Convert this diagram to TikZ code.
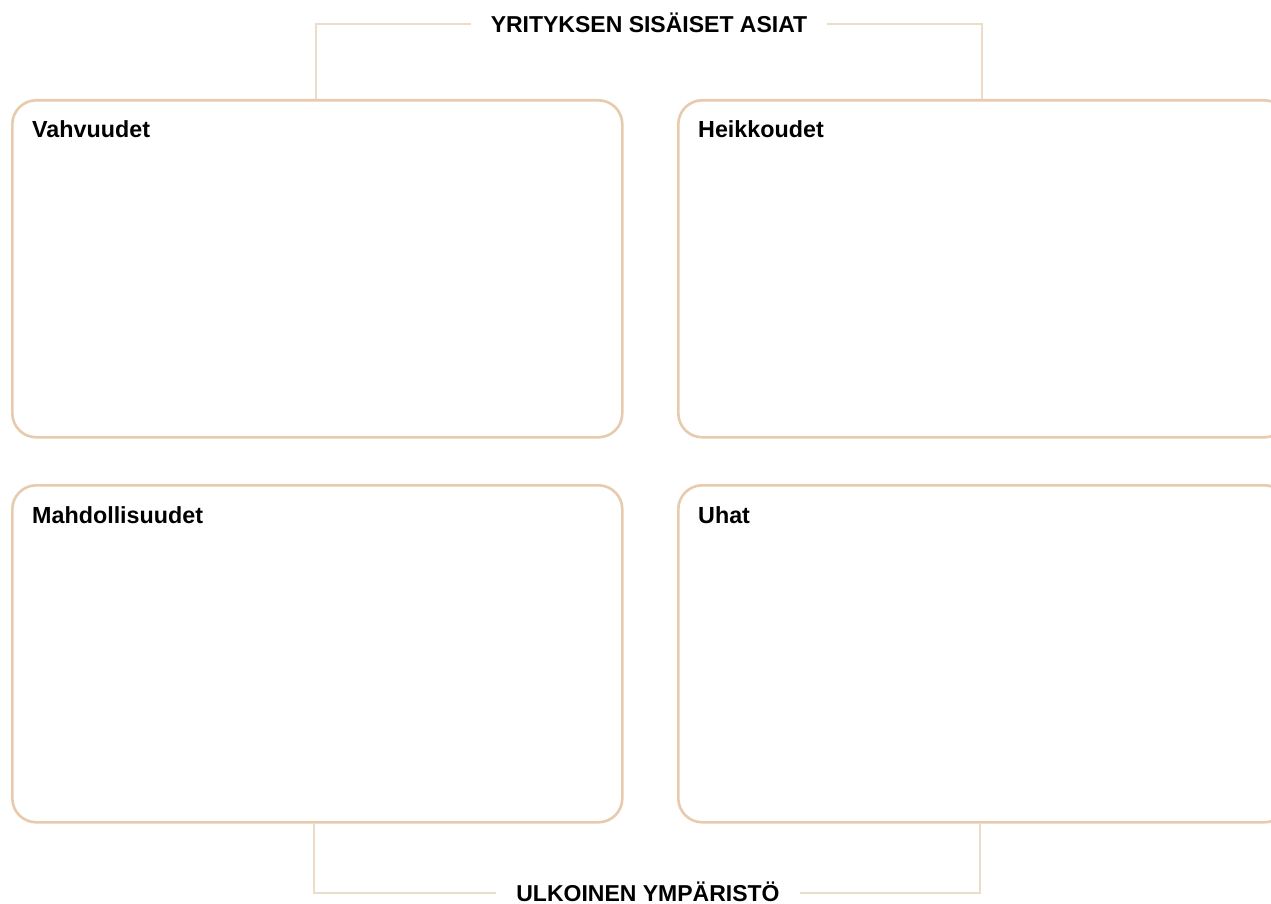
\documentclass[tikz,border=0pt]{standalone}
\usepackage{fontspec}
\setmainfont{Liberation Sans}
\usetikzlibrary{calc}
\definecolor{boxline}{HTML}{E8CBAE}
\definecolor{bracketline}{HTML}{EDDCC9}
\begin{document}
\begin{tikzpicture}[x=1pt,y=-1pt,
  swotbox/.style={draw=boxline, line width=2.6pt, rounded corners=24pt,
    minimum width=610pt, minimum height=337pt, inner sep=0pt},
  boxlabel/.style={anchor=base west, inner sep=0pt, font=\fontsize{23.3}{27}\selectfont\bfseries},
  axistitle/.style={anchor=base, inner xsep=20pt, inner ysep=0pt, font=\fontsize{23}{27}\selectfont\bfseries},
  bracket/.style={draw=bracketline, line width=2.4pt}]
\useasboundingbox (0,0) rectangle (1271,904);
\clip (0,0) rectangle (1271,904);
\fill[white] (0,0) rectangle (1271,904);
% boxes
\node[swotbox, anchor=north west] (S) at (11,99) {};
\node[swotbox, anchor=north west] (W) at (677,99) {};
\node[swotbox, anchor=north west] (O) at (11,484) {};
\node[swotbox, anchor=north west] (T) at (677,484) {};
% labels
\node[boxlabel] (Sl) at ($(S.north west)+(21,39)$) {Vahvuudet};
\node[boxlabel] (Wl) at ($(W.north west)+(21,39)$) {Heikkoudet};
\node[boxlabel] (Ol) at ($(O.north west)+(21,39)$) {Mahdollisuudet};
\node[boxlabel] (Tl) at ($(T.north west)+(21,39)$) {Uhat};
% titles
\node[axistitle] (top) at (649,32.3) {YRITYKSEN SISÄISET ASIAT};
\node[axistitle] (bot) at (648,901) {ULKOINEN YMPÄRISTÖ};
\coordinate (tl) at (316,24);
\coordinate (tr) at (982,24);
\coordinate (bl) at (314,893);
\coordinate (br) at (980,893);
% brackets
\draw[bracket] (S.north -| tl) -- (tl) -- (top.west |- tl);
\draw[bracket] (W.north -| tr) -- (tr) -- (top.east |- tr);
\draw[bracket] (O.south -| bl) -- (bl) -- (bot.west |- bl);
\draw[bracket] (T.south -| br) -- (br) -- (bot.east |- br);
\end{tikzpicture}
\end{document}
